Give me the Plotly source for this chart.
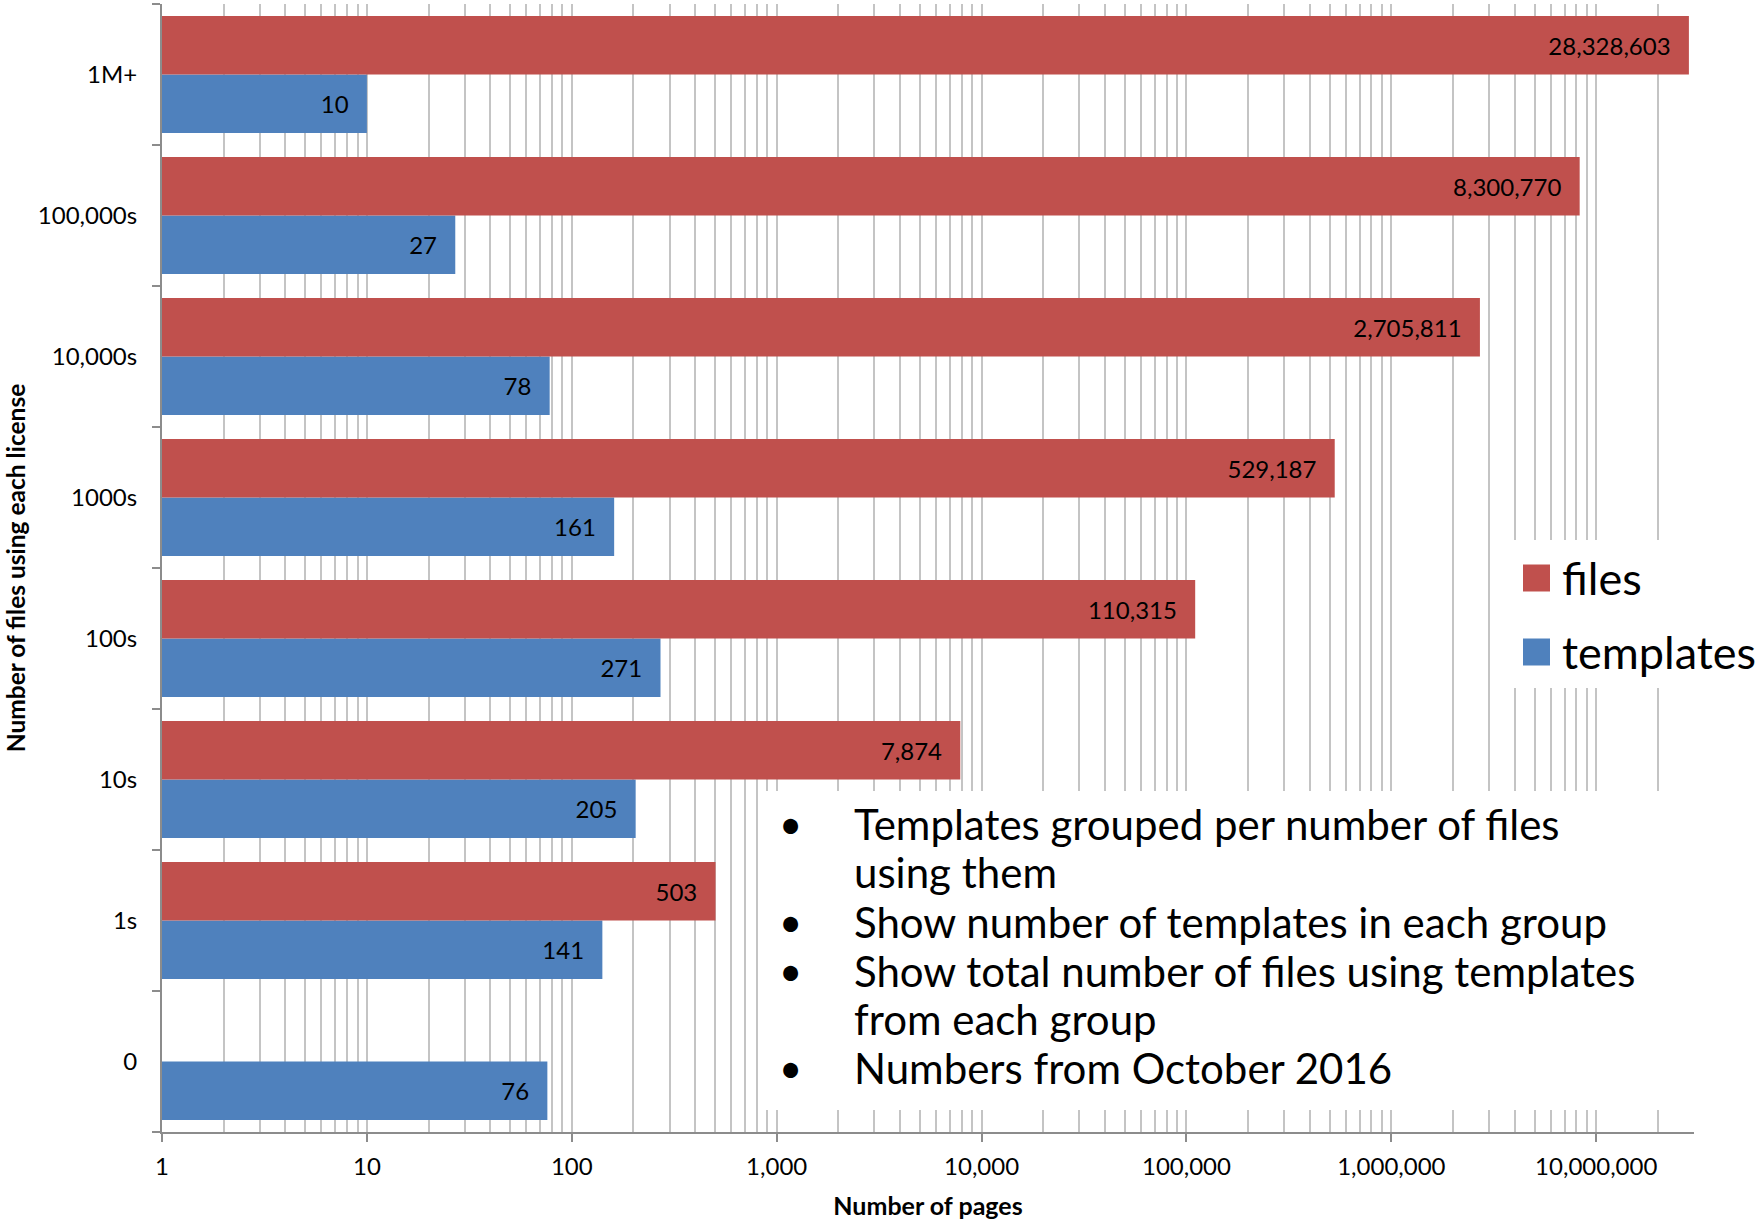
import math
import plotly.graph_objects as go

# ---- data (bottom to top) ----
categories = ["0", "1s", "10s", "100s", "1000s", "10,000s", "100,000s", "1M+"]
templates = [76, 141, 205, 271, 161, 78, 27, 10]
files = [None, 503, 7874, 110315, 529187, 2705811, 8300770, 28328603]
x_tick_vals = [1, 10, 100, 1000, 10000, 100000, 1000000, 10000000]
bullet_lines = [
    ("•", "Templates grouped per number of files"),
    ("", "using them"),
    ("•", "Show number of templates in each group"),
    ("•", "Show total number of files using templates"),
    ("", "from each group"),
    ("•", "Numbers from October 2016"),
]
legend_items = [("files", "#C0504D"), ("templates", "#4F81BD")]

RED = "#C0504D"
BLUE = "#4F81BD"
GRID = "#C4C4C4"
AXIS = "#8C8C8C"
FONT = "Lato"
PAD = "\u00a0\u00a0\u2009"

W, H = 1758, 1221
L, R, T, B = 162, 64, 4, 89
PW = W - L - R
PH = H - T - B


def px(x):
    return (x - L) / PW


def py(y):
    return (H - B - y) / PH


fig = go.Figure()
fig.add_trace(go.Bar(
    y=categories, x=templates, orientation="h", name="templates",
    marker=dict(color=BLUE, line=dict(width=0)),
    texttemplate="%{x:,}" + PAD, textposition="inside", insidetextanchor="end",
    constraintext="none", textangle=0,
    insidetextfont=dict(color="black", size=24, family=FONT),
    showlegend=False, hoverinfo="skip",
))
fig.add_trace(go.Bar(
    y=categories, x=files, orientation="h", name="files",
    marker=dict(color=RED, line=dict(width=0)),
    texttemplate="%{x:,}" + PAD, textposition="inside", insidetextanchor="end",
    constraintext="none", textangle=0,
    insidetextfont=dict(color="black", size=24, family=FONT),
    showlegend=False, hoverinfo="skip",
))

fig.update_layout(
    width=W, height=H,
    margin=dict(l=L, r=R, t=T, b=B, autoexpand=False),
    paper_bgcolor="white", plot_bgcolor="white",
    barmode="group", bargap=0.17, bargroupgap=0,
    font=dict(family=FONT, color="black", size=24),
    showlegend=False,
)
fig.update_xaxes(
    type="log", range=[0, math.log10(3e7)],
    tickvals=x_tick_vals, tickformat=",",
    showgrid=True, gridcolor=GRID, gridwidth=1.5,
    minor=dict(dtick="D1", showgrid=True, gridcolor=GRID, gridwidth=1.5, ticks=""),
    ticks="outside", ticklen=8, tickwidth=1.5, tickcolor=AXIS,
    showline=True, linecolor=AXIS, linewidth=2,
    tickfont=dict(size=24, family=FONT), ticklabelstandoff=4,
    title=dict(text="<b>Number of pages</b>", font=dict(size=25, family=FONT), standoff=19),
    zeroline=False,
)
fig.update_yaxes(
    type="category", categoryorder="array", categoryarray=categories,
    showgrid=False, tickson="boundaries",
    ticks="outside", ticklen=8, tickwidth=1.5, tickcolor=AXIS,
    showline=True, linecolor=AXIS, linewidth=2,
    tickfont=dict(size=24, family=FONT), ticklabelstandoff=18,
    title=dict(text="<b>Number of files using each license</b>", font=dict(size=24.5, family=FONT), standoff=5),
)

shapes = []
annotations = []
# text box background
shapes.append(dict(type="rect", xref="paper", yref="paper", layer="above",
                   x0=px(758), x1=px(1694), y0=py(1110), y1=py(791),
                   fillcolor="white", line=dict(width=0)))
# legend background
shapes.append(dict(type="rect", xref="paper", yref="paper", layer="above",
                   x0=px(1500), x1=px(1758), y0=py(688), y1=py(540),
                   fillcolor="white", line=dict(width=0)))
leg_y = [578, 652]
for (name, color), yc in zip(legend_items, leg_y):
    shapes.append(dict(type="rect", xref="paper", yref="paper", layer="above",
                       x0=px(1523), x1=px(1550), y0=py(yc + 13.5), y1=py(yc - 13.5),
                       fillcolor=color, line=dict(width=0)))
    annotations.append(dict(xref="paper", yref="paper", x=px(1560), y=py(yc),
                            xanchor="left", yanchor="middle", showarrow=False,
                            text=name, font=dict(size=45, family=FONT, color="black")))

line_y = [824, 872, 922, 971, 1019, 1068]
for (bul, txt), yc in zip(bullet_lines, line_y):
    if bul:
        annotations.append(dict(xref="paper", yref="paper", x=px(790), y=py(yc),
                                xanchor="center", yanchor="middle", showarrow=False,
                                text=bul, font=dict(size=40, family=FONT, color="black")))
    annotations.append(dict(xref="paper", yref="paper", x=px(852), y=py(yc),
                            xanchor="left", yanchor="middle", showarrow=False,
                            text=txt, font=dict(size=42, family=FONT, color="black")))

fig.update_layout(shapes=shapes, annotations=annotations)
fig.write_html("out.html", config={"displayModeBar": False},
               post_script="document.body.style.margin='0';document.body.style.padding='0';")
